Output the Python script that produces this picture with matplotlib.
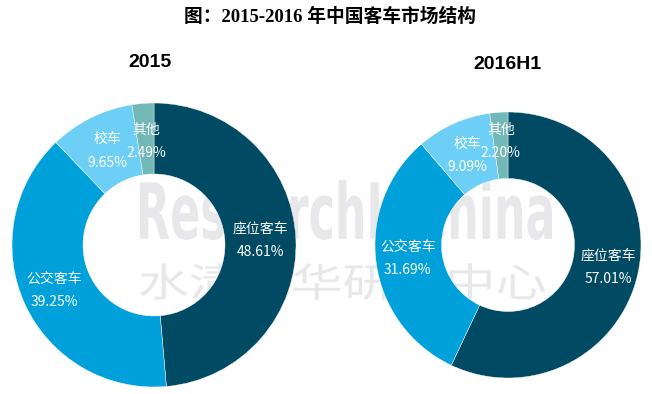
import matplotlib
matplotlib.use('Agg')
import matplotlib.pyplot as plt
import numpy as np
from matplotlib.textpath import TextPath
from matplotlib.patches import PathPatch
from matplotlib.font_manager import FontProperties
from matplotlib.transforms import Affine2D

plt.rcParams['font.family'] = ['Noto Sans CJK SC', 'DejaVu Sans']

# data
categories = ['座位客车', '公交客车', '校车', '其他']
share_2015 = [48.61, 39.25, 9.65, 2.49]
share_2016h1 = [57.01, 31.69, 9.09, 2.20]
colors = ['#004b63', '#00a0da', '#6dcff6', '#72b8b7']

fig = plt.figure(figsize=(6.52, 3.94), dpi=100)
W, H = 652, 394

# watermark layer (behind everything)
bg = fig.add_axes([0, 0, 1, 1], zorder=-1)
bg.set_xlim(0, W)
bg.set_ylim(0, H)
bg.axis('off')


def stretch_text(ax, s, x0, x1, ytop, ybot, prop):
    # draw text path stretched into the box (pixel coords, y from top)
    tp = TextPath((0, 0), s, size=1, prop=prop)
    ext = tp.get_extents()
    sx = (x1 - x0) / ext.width
    sy = (ybot - ytop) / ext.height
    tr = Affine2D().translate(-ext.x0, -ext.y0).scale(sx, sy).translate(x0, H - ybot)
    ax.add_patch(PathPatch(tr.transform_path(tp), facecolor='#e8e8ea', edgecolor='none'))


stretch_text(bg, 'ResearchInChina', 140, 552, 180, 240,
             FontProperties(family='DejaVu Sans', weight='bold'))
stretch_text(bg, '水清木华研究中心', 140, 545, 263, 300,
             FontProperties(family='Noto Sans CJK SC'))


def donut(cx, cy, r, values, label_r):
    ax = fig.add_axes([(cx - r) / W, (H - cy - r) / H, 2 * r / W, 2 * r / H])
    ax.set_facecolor('none')
    wedges, _ = ax.pie(values, colors=colors, startangle=90, counterclock=False,
                       radius=1, wedgeprops=dict(width=0.5, edgecolor='white', linewidth=0.3))
    for w, name, v, lr in zip(wedges, categories, values, label_r):
        ang = np.deg2rad((w.theta1 + w.theta2) / 2)
        x, y = lr * np.cos(ang), lr * np.sin(ang)
        # name above, percentage below
        ax.annotate(name, (x, y), xytext=(0, 8.5), textcoords='offset points',
                    ha='center', va='center', color='white', fontsize=10)
        ax.annotate(f'{v:.2f}%', (x, y), xytext=(0, -8.5), textcoords='offset points',
                    ha='center', va='center', color='white', fontsize=10)
    ax.set_xlim(-1, 1)
    ax.set_ylim(-1, 1)
    ax.set_aspect('equal')
    return ax


donut(154, 245, 142, share_2015, [0.75, 0.77, 0.74, 0.73])
donut(508, 245, 133, share_2016h1, [0.77, 0.76, 0.74, 0.78])

# titles
fig.text(330 / W, 1 - 17 / H, '图：2015-2016 年中国客车市场结构', ha='center', va='center',
         fontsize=13.5, fontweight='bold', family=['Liberation Serif', 'Noto Sans CJK SC'])
fig.text(150 / W, 1 - 62.5 / H, '2015', ha='center', va='center',
         fontsize=14, fontweight='bold', family=['Liberation Sans'])
fig.text(507 / W, 1 - 64.5 / H, '2016H1', ha='center', va='center',
         fontsize=14, fontweight='bold', family=['Liberation Sans'])

fig.savefig('out.png', dpi=100)
